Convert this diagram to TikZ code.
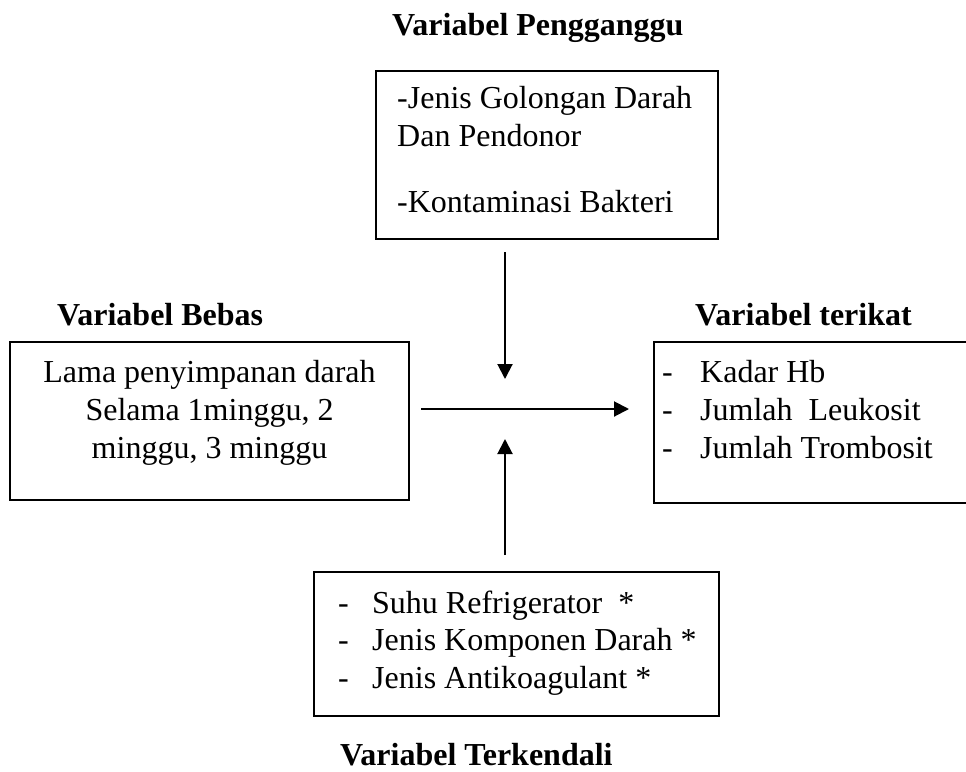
\documentclass[tikz,border=0pt]{standalone}
\usepackage{fontspec}
\setmainfont{Liberation Serif}
\usetikzlibrary{arrows.meta}
\begin{document}
\begin{tikzpicture}[x=1pt,y=-1pt,
  box/.style={draw, line width=1.8pt, inner sep=0pt, outer sep=0pt},
  txt/.style={anchor=base west, inner sep=0pt, font=\fontsize{32}{38}\selectfont},
  ctxt/.style={txt, anchor=base},
  ttl/.style={txt, font=\fontsize{32}{38}\selectfont\bfseries},
  arr/.style={line width=2pt, -{Triangle[length=15pt,width=15pt]}}]
\useasboundingbox (0,0) rectangle (966,771);
% boxes
\node[box, minimum width=342pt, minimum height=168pt] (top) at (547,155) {};
\node[box, minimum width=399pt, minimum height=158pt] (left) at (209.5,421) {};
\node[box, minimum width=346pt, minimum height=161pt] (right) at (827,422.5) {};
\node[box, minimum width=405pt, minimum height=144pt] (bottom) at (516.5,644) {};
% titles
\node[ttl] (t1) at (392,35) {Variabel Pengganggu};
\node[ttl] (t2) at (57,325) {Variabel Bebas};
\node[ttl] (t3) at (695,325) {Variabel terikat};
\node[ttl] (t4) at (340,765) {Variabel Terkendali};
% top box text
\node[txt] (a1) at (397,108) {-Jenis Golongan Darah};
\node[txt] (a2) at (397,146) {Dan Pendonor};
\node[txt] (a3) at (397,212) {-Kontaminasi Bakteri};
% left box text
\node[ctxt] (b1) at (209.5,382) {Lama penyimpanan darah};
\node[ctxt] (b2) at (209.5,420) {Selama 1minggu, 2};
\node[ctxt] (b3) at (209.5,458) {minggu, 3 minggu};
% right box text
\node[txt] (c1d) at (662,382) {-};
\node[txt] (c2d) at (662,420) {-};
\node[txt] (c3d) at (662,458) {-};
\node[txt] (c1) at (700,382) {Kadar Hb};
\node[txt] (c2) at (700,420) {Jumlah\ \ Leukosit};
\node[txt] (c3) at (700,458) {Jumlah Trombosit};
% bottom box text
\node[txt] (e1d) at (338,613) {-};
\node[txt] (e2d) at (338,650) {-};
\node[txt] (e3d) at (338,688) {-};
\node[txt] (e1) at (372,613) {Suhu Refrigerator\ \ *};
\node[txt] (e2) at (372,650) {Jenis Komponen Darah *};
\node[txt] (e3) at (372,688) {Jenis Antikoagulant *};
% arrows
\coordinate (d1) at (505,252);
\coordinate (d2) at (505,379);
\coordinate (h1) at (421,409);
\coordinate (h2) at (629,409);
\coordinate (u1) at (505,555);
\coordinate (u2) at (505,439);
\draw[arr] (d1) -- (d2);
\draw[arr] (h1) -- (h2);
\draw[arr] (u1) -- (u2);
\end{tikzpicture}
\end{document}
